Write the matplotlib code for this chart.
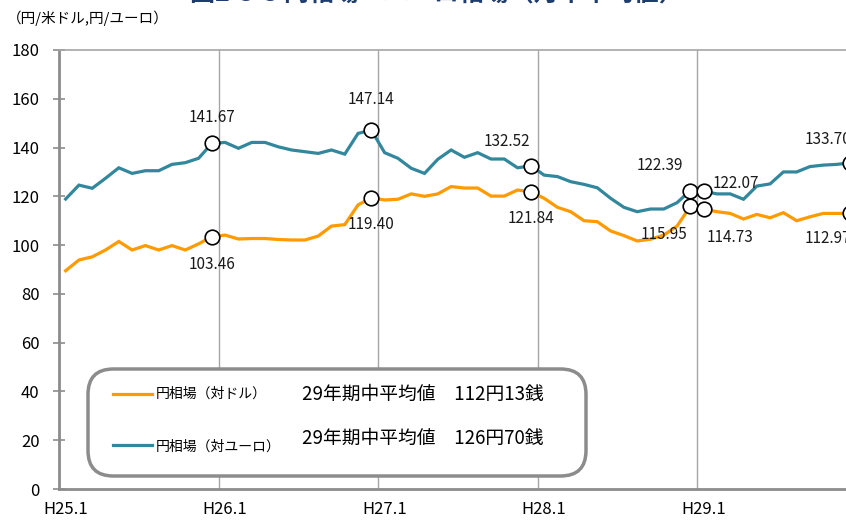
import matplotlib
matplotlib.use("Agg")
from matplotlib import pyplot as plt
from matplotlib.patches import FancyBboxPatch

plt.rcParams['font.family'] = ['Noto Sans CJK JP', 'DejaVu Sans']

# monthly averages, H25.1 .. H29.12
usd = [89.5, 93.9, 95.2, 98.0, 101.5, 98.0, 99.8, 98.0, 99.8, 98.0, 100.5, 103.46,
       104.1, 102.5, 102.7, 102.7, 102.3, 102.1, 102.1, 103.7, 107.8, 108.4, 116.5, 119.40,
       118.5, 118.8, 121.0, 120.0, 121.0, 124.0, 123.4, 123.4, 120.1, 120.1, 122.6, 121.84,
       119.2, 115.5, 113.7, 110.0, 109.6, 105.8, 103.9, 101.7, 102.4, 104.1, 107.8, 115.95,
       114.73, 113.7, 113.0, 110.7, 112.6, 111.2, 113.3, 110.0, 111.6, 113.0, 113.0, 112.97]
eur = [118.9, 124.6, 123.3, 127.4, 131.7, 129.4, 130.5, 130.5, 133.1, 133.8, 135.6, 141.67,
       142.1, 139.7, 142.1, 142.1, 140.3, 139.0, 138.3, 137.6, 139.0, 137.3, 145.8, 147.14,
       137.9, 135.6, 131.5, 129.4, 135.2, 139.0, 136.0, 137.9, 135.3, 135.3, 131.7, 132.52,
       128.7, 128.1, 126.0, 124.9, 123.5, 119.2, 115.5, 113.7, 114.8, 114.8, 117.4, 122.39,
       122.07, 121.0, 121.0, 118.8, 124.2, 125.1, 130.0, 130.0, 132.2, 132.8, 133.1, 133.70]
years = ['H25.1', 'H26.1', 'H27.1', 'H28.1', 'H29.1']

# months that get a circle and a value label, with label offsets in pixels
usd_marked = {11: (0, -28), 23: (0, -27), 35: (0, -27), 47: (-26, -28), 48: (26, -28), 59: (-22, -25)}
eur_marked = {11: (0, 26), 23: (0, 31), 35: (-24, 24), 47: (-30, 25), 48: (32, 8), 59: (-22, 23)}

usd_label = '円相場（対ドル）'
eur_label = '円相場（対ユーロ）'
usd_note = '29年期中平均値　112円13銭'
eur_note = '29年期中平均値　126円70銭'

orange = '#FF9A00'
teal = '#33879C'
grey = '#8C8C8C'

W, H = 846, 521
fig = plt.figure(figsize=(W / 100, H / 100), dpi=100)
ax = fig.add_axes([59 / W, 1 - 489 / H, 797.5 / W, 439 / H])

x = list(range(len(usd)))
ax.plot(x, usd, color=orange, lw=2.3, solid_joinstyle='miter', zorder=3)
ax.plot(x, eur, color=teal, lw=2.3, solid_joinstyle='miter', zorder=3)

for series, marks in ((usd, usd_marked), (eur, eur_marked)):
    for i, (dx, dy) in marks.items():
        ax.plot(i, series[i], 'o', ms=10.5, mfc='white', mec='black', mew=1.2, zorder=4, clip_on=False)
        ax.annotate('%.2f' % series[i], (i, series[i]), xytext=(dx, dy), textcoords='offset pixels',
                    ha='center', va='center', fontsize=11, color='#1a1a1a', zorder=5)

ax.set_xlim(-0.5, 59.5)
ax.set_ylim(0, 180)
ax.set_yticks(range(0, 181, 20))
ax.set_xticks([0, 12, 24, 36, 48])
ax.set_xticklabels(years)
ax.set_xticks([11.5, 23.5, 35.5, 47.5], minor=True)
ax.grid(axis='x', which='minor', color='#A6A6A6', lw=1.0)
ax.tick_params(axis='x', which='both', length=0, labelsize=12, pad=9)
ax.tick_params(axis='y', direction='inout', length=8, width=1.2, color=grey, labelsize=12, pad=10)
for s in ('left', 'bottom'):
    ax.spines[s].set_color(grey)
    ax.spines[s].set_linewidth(2)
ax.spines['top'].set_color('#A6A6A6')
ax.spines['top'].set_linewidth(1.2)
ax.spines['right'].set_visible(False)

# legend box with yearly averages
box = FancyBboxPatch((88 / W, 1 - 476 / H), 498 / W, 107 / H,
                     boxstyle='round,pad=0,rounding_size=0.03', transform=fig.transFigure,
                     fc='white', ec=grey, lw=2.5, zorder=6, mutation_aspect=W / H)
fig.add_artist(box)
for (yl, yt, yn, col, lab, note) in ((394, 394, 394, orange, usd_label, usd_note),
                                      (445, 447, 438, teal, eur_label, eur_note)):
    fig.add_artist(plt.Line2D([113 / W, 152 / W], [1 - yl / H] * 2, color=col, lw=2.3, zorder=7))
    fig.text(156 / W, 1 - yt / H, lab, fontsize=10, va='center', ha='left', zorder=7)
    fig.text(302 / W, 1 - yn / H, note, fontsize=13.5, va='center', ha='left', zorder=7)

fig.text(7 / W, 1 - 18 / H, '（円/米ドル,円/ユーロ）', fontsize=10.5, va='center', ha='left')
fig.text(190 / W, 1 - 1 / H, '図2-3-3 円相場・ユーロ相場（月中平均値）', fontsize=18,
         fontweight='bold', color='#1F3C6E', va='baseline', ha='left')

fig.savefig('out.png', dpi=100)
